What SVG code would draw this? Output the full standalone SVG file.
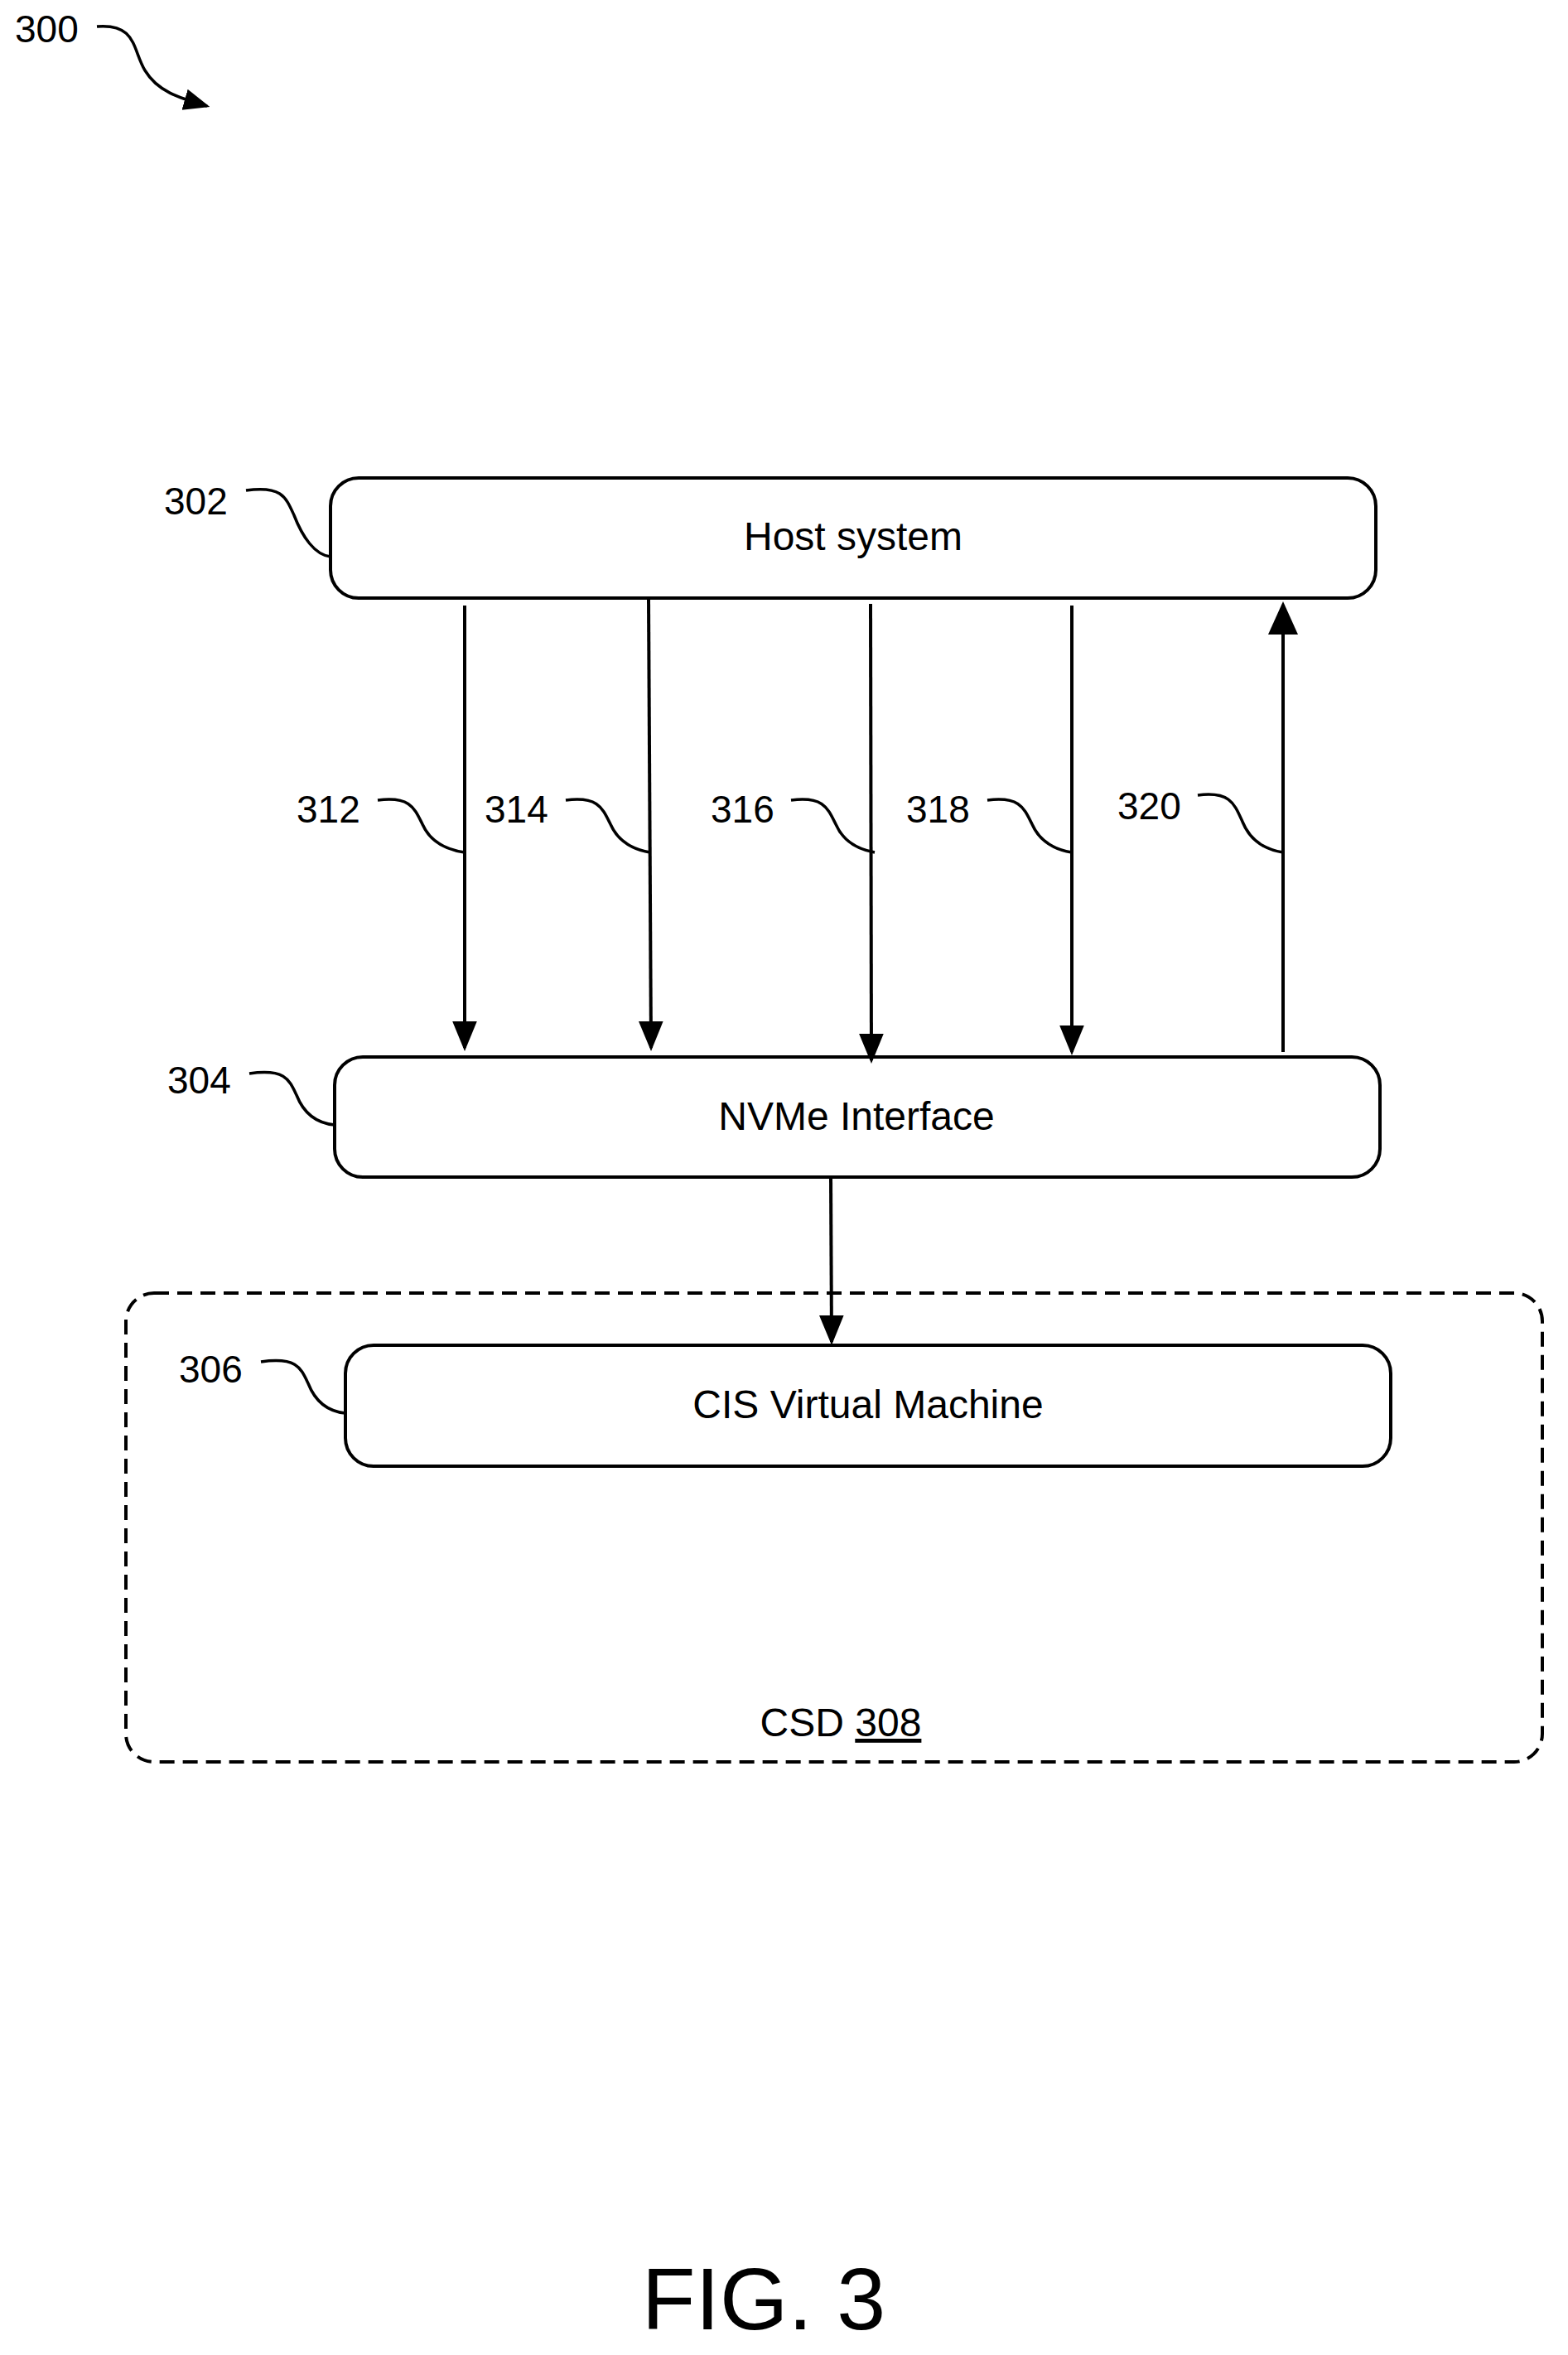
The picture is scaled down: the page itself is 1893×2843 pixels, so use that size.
<svg xmlns="http://www.w3.org/2000/svg" width="1893" height="2843" viewBox="0 0 1893 2843">
<style>
.b{fill:#fff;stroke:#000;stroke-width:4}
.c{fill:none;stroke:#000;stroke-width:4}
.l{fill:none;stroke:#000;stroke-width:3.5}
text{font-family:"Liberation Sans",Arial,sans-serif;fill:#000}
.t{font-size:48px;text-anchor:middle}
.n{font-size:46px}
</style>
<defs>
<marker id="a" markerWidth="9" markerHeight="9" refX="8" refY="4.5" orient="auto" markerUnits="strokeWidth"><path d="M0,0.8 L9,4.5 L0,8.2 z" fill="#000"/></marker>
<marker id="u" markerWidth="10" markerHeight="10" refX="9" refY="5" orient="auto" markerUnits="strokeWidth"><path d="M0,0.5 L10,5 L0,9.5 z" fill="#000"/></marker>
</defs>
<rect x="0" y="0" width="1893" height="2843" fill="#fff"/>
<g id="fig300">
<text class="n" x="18" y="51">300</text>
<path class="l" d="M117,32 C165,28 160,60 175,85 C190,110 215,118 250,128" marker-end="url(#a)"/>
</g>
<g id="csd308">
<rect x="152" y="1561" width="1710" height="566" rx="34" fill="none" stroke="#000" stroke-width="4" stroke-dasharray="18,10"/>
<text class="t" x="1015" y="2096">CSD <tspan text-decoration="underline">308</tspan></text>
</g>
<g id="host302">
<rect class="b" x="399" y="577" width="1262" height="145" rx="34"/>
<text class="t" x="1030" y="664">Host system</text>
<text class="n" x="198" y="621">302</text>
<path class="l" d="M297,592 C340,586 345,600 355,622 C365,648 380,670 399,672"/>
</g>
<g id="nvme304">
<rect class="b" x="404" y="1276" width="1262" height="145" rx="34"/>
<text class="t" x="1034" y="1364">NVMe Interface</text>
<text class="n" x="202" y="1320">304</text>
<path class="l" d="M301,1296 C344,1290 349,1303 358,1322 C367,1345 382,1356 404,1358"/>
</g>
<g id="cis306">
<rect class="b" x="417" y="1624" width="1262" height="146" rx="34"/>
<text class="t" x="1048" y="1712">CIS Virtual Machine</text>
<text class="n" x="216" y="1669">306</text>
<path class="l" d="M315,1644 C358,1638 363,1651 372,1670 C381,1693 396,1704 417,1706"/>
</g>
<g id="connectors">
<line class="c" x1="561" y1="731" x2="561" y2="1265" marker-end="url(#a)"/>
<line class="c" x1="783" y1="723" x2="786" y2="1265" marker-end="url(#a)"/>
<line class="c" x1="1051" y1="729" x2="1052" y2="1280" marker-end="url(#a)"/>
<line class="c" x1="1294" y1="731" x2="1294" y2="1270" marker-end="url(#a)"/>
<line class="c" x1="1549" y1="1270" x2="1549" y2="730" marker-end="url(#u)"/>
<line class="c" x1="1003" y1="1421" x2="1004" y2="1620" marker-end="url(#a)"/>
<text class="n" x="358" y="993">312</text>
<path class="l" d="M456,966 C495,961 500,975 510,995 C520,1018 540,1026 561,1029"/>
<text class="n" x="585" y="993">314</text>
<path class="l" d="M683,966 C722,961 727,975 737,995 C747,1018 767,1026 785,1029"/>
<text class="n" x="858" y="993">316</text>
<path class="l" d="M955,966 C994,961 999,975 1009,995 C1019,1018 1039,1026 1056,1029"/>
<text class="n" x="1094" y="993">318</text>
<path class="l" d="M1192,966 C1231,961 1236,975 1246,995 C1256,1018 1276,1026 1294,1029"/>
<text class="n" x="1349" y="989">320</text>
<path class="l" d="M1446,960 C1485,955 1490,970 1500,992 C1510,1017 1530,1026 1549,1029"/>
</g>
<text x="922" y="2812" font-size="106" text-anchor="middle" font-family="Liberation Sans,Arial,sans-serif">FIG. 3</text>
</svg>
